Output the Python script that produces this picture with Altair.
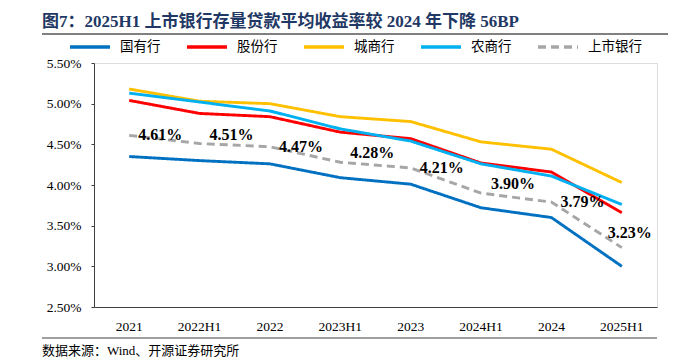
import altair as alt
import pandas as pd

periods = ["2021", "2022H1", "2022", "2023H1", "2023", "2024H1", "2024", "2025H1"]
series_names = ["国有行", "股份行", "城商行", "农商行", "上市银行"]
state_owned = [4.35, 4.30, 4.26, 4.09, 4.01, 3.72, 3.60, 3.00]
joint_stock = [5.04, 4.88, 4.84, 4.65, 4.57, 4.27, 4.16, 3.66]
city_comm = [5.18, 5.03, 5.00, 4.84, 4.78, 4.53, 4.44, 4.03]
rural_comm = [5.13, 5.02, 4.91, 4.69, 4.54, 4.26, 4.11, 3.76]
listed = [4.61, 4.51, 4.47, 4.28, 4.21, 3.90, 3.79, 3.23]
colors = ["#0070C0", "#FF0000", "#FFC000", "#00B0F0", "#A6A6A6"]
dashes = [[1, 0], [1, 0], [1, 0], [1, 0], [8, 5]]
y_ticks = [2.5, 3.0, 3.5, 4.0, 4.5, 5.0, 5.5]

title_text = "图7：2025H1 上市银行存量贷款平均收益率较 2024 年下降 56BP"
source_text = "数据来源：Wind、开源证券研究所"

rows = []
for name, vals in zip(series_names, [state_owned, joint_stock, city_comm, rural_comm, listed]):
    for p, v in zip(periods, vals):
        rows.append({"period": p, "series": name, "value": v})
df = pd.DataFrame(rows)
lab = pd.DataFrame({"period": periods, "value": listed})

SERIF = "Liberation Serif, Noto Sans CJK SC"

x_enc = alt.X("period:N", sort=periods, title=None,
              scale=alt.Scale(type="band", paddingInner=0, paddingOuter=0),
              axis=alt.Axis(labelAngle=0, labelFont=SERIF, labelFontSize=13.5, labelColor="#000",
                            domainColor="#404040", ticks=False, labelPadding=12, bandPosition=0))
y_enc = alt.Y("value:Q", title=None,
              scale=alt.Scale(domain=[2.5, 5.5], nice=False, zero=False),
              axis=alt.Axis(values=y_ticks, labelExpr="format(datum.value, '.2f') + '%'",
                            labelFont=SERIF, labelFontSize=13.5, labelColor="#000",
                            domainColor="#404040", tickColor="#404040", tickSize=3,
                            grid=False, labelPadding=10))

lines = alt.Chart(df).mark_line(strokeWidth=2.9).encode(
    x=x_enc, y=y_enc,
    color=alt.Color("series:N", sort=series_names,
                    scale=alt.Scale(domain=series_names, range=colors),
                    legend=alt.Legend(title=None, orient="none", legendX=-26, legendY=-38,
                                      direction="horizontal", symbolType="stroke",
                                      symbolSize=1600, symbolStrokeWidth=3.5,
                                      labelFont=SERIF, labelFontSize=13.5, labelColor="#000",
                                      columnPadding=19, labelOffset=8)),
    strokeDash=alt.StrokeDash("series:N", sort=series_names,
                              scale=alt.Scale(domain=series_names, range=dashes),
                              legend=None),
    order=alt.Order("series:N"),
)

text_props = dict(font="Liberation Serif", fontSize=16, fontWeight="bold", color="#000")
fmt = "format(datum.value, '.2f') + '%'"
lab_even = alt.Chart(lab).transform_filter(
    alt.FieldOneOfPredicate(field="period", oneOf=["2021", "2022", "2023", "2024"])
).transform_calculate(lbl=fmt).mark_text(dx=31, dy=0, **text_props).encode(
    x=alt.X("period:N", sort=periods), y="value:Q", text="lbl:N")
lab_odd = alt.Chart(lab).transform_filter(
    alt.FieldOneOfPredicate(field="period", oneOf=["2022H1", "2023H1", "2024H1"])
).transform_calculate(lbl=fmt).mark_text(dx=32, dy=-9, **text_props).encode(
    x=alt.X("period:N", sort=periods), y="value:Q", text="lbl:N")
lab_last = alt.Chart(lab).transform_filter(
    alt.FieldOneOfPredicate(field="period", oneOf=["2025H1"])
).transform_calculate(lbl=fmt).mark_text(dx=8, dy=-15, **text_props).encode(
    x=alt.X("period:N", sort=periods), y="value:Q", text="lbl:N")

one = pd.DataFrame({"k": [0]})
title_mark = alt.Chart(one).mark_text(
    align="left", baseline="middle", font=SERIF, fontSize=17, fontWeight="bold", color="#1F3864"
).encode(x=alt.value(-52), y=alt.value(-41), text=alt.value(title_text))
title_rule = alt.Chart(one).mark_rule(color="#808080", strokeWidth=2).encode(
    x=alt.value(-52), x2=alt.value(574), y=alt.value(-29))
src_rule = alt.Chart(one).mark_rule(color="#404040", strokeWidth=1).encode(
    x=alt.value(-52), x2=alt.value(563), y=alt.value(275))
src_mark = alt.Chart(one).mark_text(
    align="left", baseline="middle", font=SERIF, fontSize=13, color="#000"
).encode(x=alt.value(-52), y=alt.value(288), text=alt.value(source_text))

chart = alt.layer(lines, lab_even, lab_odd, lab_last, title_mark, title_rule, src_rule, src_mark).properties(
    width=563, height=244,
    padding={"left": 86, "top": 55, "right": 20, "bottom": 54},
    autosize="none",
).configure_view(stroke=None).configure(background="white")

chart.save("out.html", embed_options={"renderer": "svg", "actions": False})
